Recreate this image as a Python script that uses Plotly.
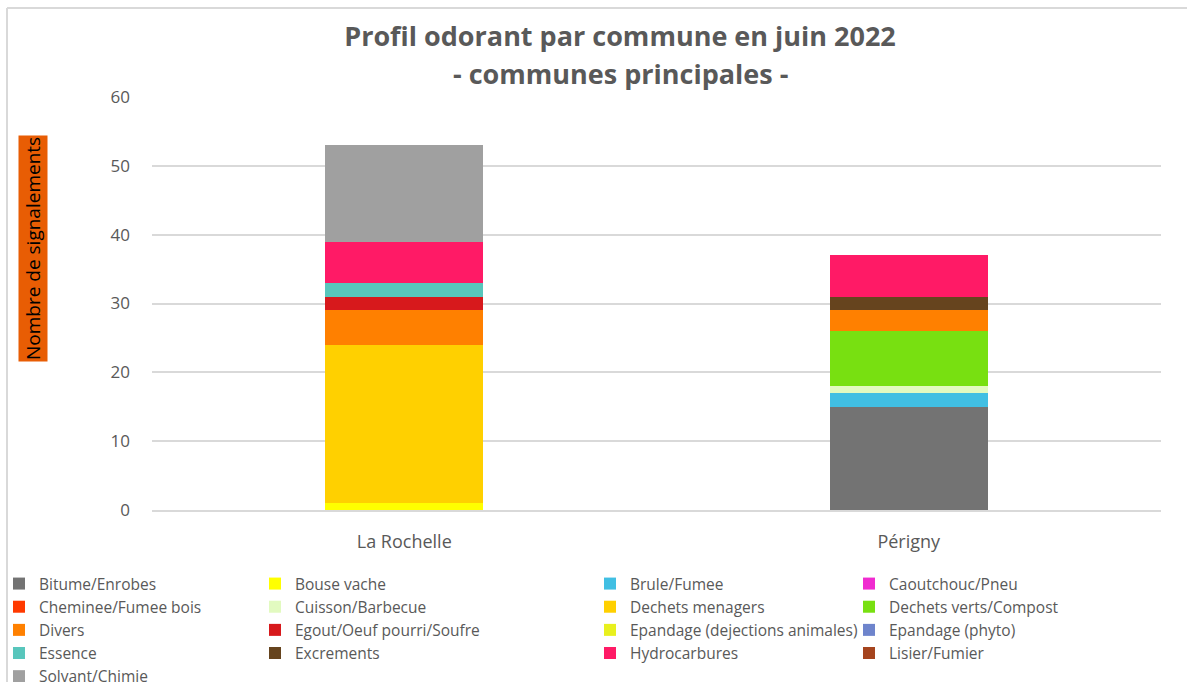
import plotly.graph_objects as go

categories = ["La Rochelle", "Périgny"]

series_names = [
    "Bitume/Enrobes", "Bouse vache", "Brule/Fumee", "Caoutchouc/Pneu",
    "Cheminee/Fumee bois", "Cuisson/Barbecue", "Dechets menagers", "Dechets verts/Compost",
    "Divers", "Egout/Oeuf pourri/Soufre", "Epandage (dejections animales)", "Epandage (phyto)",
    "Essence", "Excrements", "Hydrocarbures", "Lisier/Fumier",
    "Solvant/Chimie",
]

bitume = [0, 15]
bouse_vache = [1, 0]
brule = [0, 2]
caoutchouc = [0, 0]
cheminee = [0, 0]
cuisson = [0, 1]
dechets_menagers = [23, 0]
dechets_verts = [0, 8]
divers = [5, 3]
egout = [2, 0]
epandage_dej = [0, 0]
epandage_phyto = [0, 0]
essence = [2, 0]
excrements = [0, 2]
hydrocarbures = [6, 6]
lisier = [0, 0]
solvant = [14, 0]

series_values = [
    bitume, bouse_vache, brule, caoutchouc, cheminee, cuisson, dechets_menagers,
    dechets_verts, divers, egout, epandage_dej, epandage_phyto, essence,
    excrements, hydrocarbures, lisier, solvant,
]

colors = [
    "#737373", "#FFFF00", "#41BFE3", "#F02BD0",
    "#FF3A00", "#E2FAC0", "#FFD000", "#78E011",
    "#FF8000", "#D7191C", "#E8F01E", "#6E84CC",
    "#58C6BC", "#66441E", "#FF1A66", "#A5441E",
    "#A0A0A0",
]

y_ticks = [0, 10, 20, 30, 40, 50, 60]

FONT = "Open Sans"
GREY = "#595959"

# plot area in pixels
PL, PR, PT, PB = 152, 1161, 97, 510
PW, PH = PR - PL, PB - PT


def px_x(x):
    return (x - PL) / PW


def px_y(y):
    return (PB - y) / PH


legend_ids = ["legend", "legend2", "legend3", "legend4"]

fig = go.Figure()
for i, (name, vals, col) in enumerate(zip(series_names, series_values, colors)):
    fig.add_trace(go.Bar(
        name=name, x=categories, y=vals, marker=dict(color=col, line=dict(width=0)),
        width=0.313, legend=legend_ids[i % 4],
    ))

legend_lefts = [-1, 255, 590, 849]
legend_common = dict(
    orientation="v", xanchor="left", yanchor="top", y=px_y(567),
    font=dict(size=15.5, color=GREY, family=FONT), traceorder="normal",
    bgcolor="rgba(0,0,0,0)", itemwidth=30,
)

layout_legends = {}
for lid, left in zip(legend_ids, legend_lefts):
    layout_legends[lid] = dict(legend_common, x=px_x(left))

fig.update_layout(
    barmode="stack",
    width=1187, height=682,
    paper_bgcolor="white", plot_bgcolor="white",
    margin=dict(l=PL, r=1187 - PR, t=PT, b=682 - PB, autoexpand=False),
    font=dict(family=FONT, color=GREY, size=17),
    title=dict(
        text="<b>Profil odorant par commune en juin 2022</b>",
        x=620 / 1187, xanchor="center", xref="container",
        y=1 - 37 / 682, yanchor="middle", yref="container",
        font=dict(family=FONT, size=27, color=GREY),
    ),
    xaxis=dict(
        showgrid=False, showline=True, linecolor="#D9D9D9", linewidth=2,
        tickfont=dict(size=18, color=GREY), ticks="", ticklabelstandoff=14,
    ),
    yaxis=dict(
        range=[0, 60], tickvals=y_ticks, showgrid=True, gridcolor="#D9D9D9",
        gridwidth=1.5, zeroline=False, showline=False,
        tickfont=dict(size=17, color=GREY), ticks="", ticklabelstandoff=21,
    ),
    showlegend=True,
    **layout_legends,
)

fig.add_annotation(
    text="<b>- communes principales -</b>",
    xref="paper", yref="paper", x=px_x(620), y=px_y(73),
    xanchor="center", yanchor="middle", showarrow=False,
    font=dict(family=FONT, size=27, color=GREY),
)

fig.add_annotation(
    text="Nombre de signalements", textangle=-90,
    xref="paper", yref="paper",
    x=px_x(33), y=px_y(249),
    xanchor="center", yanchor="middle", showarrow=False,
    bgcolor="#E85D04", font=dict(size=19, color="#000000", family=FONT),
    borderpad=1,
)

# outer chart border
fig.add_shape(type="line", xref="paper", yref="paper",
              x0=px_x(7), x1=px_x(7), y0=px_y(690), y1=px_y(8),
              line=dict(color="#D9D9D9", width=2))
fig.add_shape(type="line", xref="paper", yref="paper",
              x0=px_x(7), x1=px_x(1195), y0=px_y(8), y1=px_y(8),
              line=dict(color="#D9D9D9", width=2))

fig.write_html(
    "out.html",
    config={"displayModeBar": False},
    post_script="document.body.style.margin='0px';",
)
